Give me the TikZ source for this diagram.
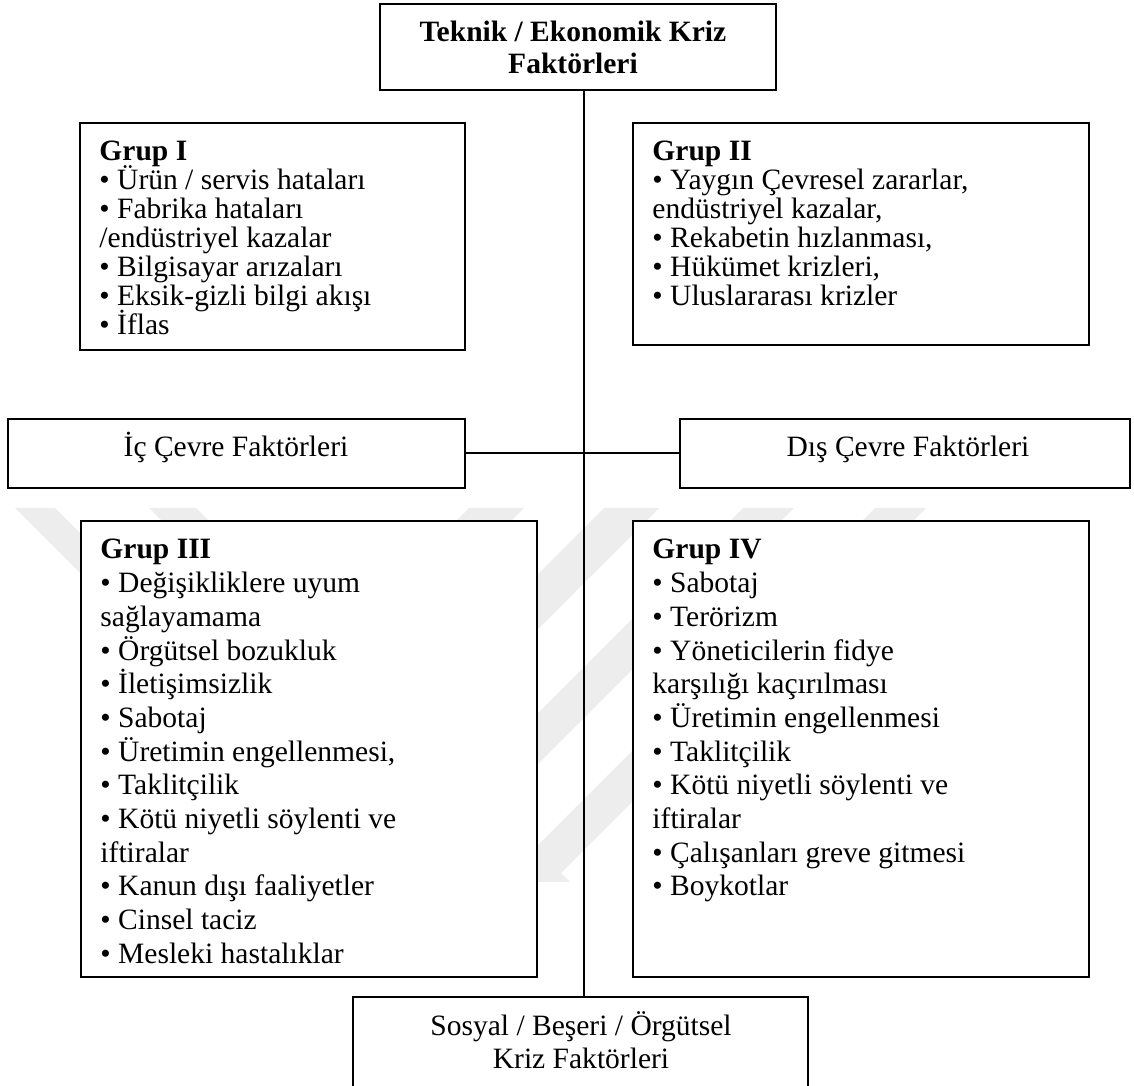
\documentclass[tikz,border=0pt]{standalone}
\usepackage{fontspec}
\setmainfont{Liberation Serif}
\usetikzlibrary{fit}
\begin{document}
\begin{tikzpicture}[x=0.42pt, y=-0.42pt,
  box/.style={draw, line width=0.84pt, fill=white, inner sep=0pt},
  wm/.style={fill=black!7},
  spine line/.style={line width=0.55pt},
  link/.style={line width=0.84pt},
  txt/.style={inner sep=0pt, font=\fontsize{12.4pt}{14pt}\selectfont},
  head/.style={inner sep=0pt, font=\fontsize{12.4pt}{14pt}\selectfont\bfseries}]

\useasboundingbox (0,0) rectangle (1134,1086);
\clip (0,0) rectangle (1134,1086);

% faint striped emblem in the background
\begin{scope}
  \clip (0,508) rectangle (1134,882);
  \foreach \a/\w in {15/40,149/47}
    \fill[wm] (\a,508) -- ++(\w,0) -- ++(400,400) -- ++(-\w,0) -- cycle;
  \foreach \a/\w in {469/55,604/55,743/51,875/51}
    \fill[wm] (\a,508) -- ++(\w,0) -- ++(-400,400) -- ++(-\w,0) -- cycle;
\end{scope}

% boxes
\node[box, fit={(380,4) (776,90)}] (top) {};
\node[box, fit={(80,123) (465,350)}] (g1) {};
\node[box, fit={(633,123) (1089,345)}] (g2) {};
\node[box, fit={(8,419) (465,488)}] (ic) {};
\node[box, fit={(680,419) (1130,488)}] (dis) {};
\node[box, fit={(81,521) (537,977)}] (g3) {};
\node[box, fit={(633,521) (1089,977)}] (g4) {};
\node[box, fit={(353,997) (808,1110)}] (bot) {};

% connectors
\coordinate (spine) at (584,0);
\draw[spine line] (top.south -| spine) -- (bot.north -| spine);
\draw[link] (ic.east) -- (dis.west);

% titles
\node[head, anchor=base] (topA) at (573,42) {Teknik / Ekonomik Kriz};
\node[head, anchor=base] (topB) at (573,74) {Faktörleri};
\node[txt, anchor=base] (icT) at (236,457) {İç Çevre Faktörleri};
\node[txt, anchor=base] (disT) at (908,457) {Dış Çevre Faktörleri};
\node[txt, anchor=base] (botA) at (581,1035) {Sosyal / Beşeri / Örgütsel};
\node[txt, anchor=base] (botB) at (581,1069) {Kriz Faktörleri};

% group lists
\foreach \lbl [count=\i from 0] in {{\bfseries Grup I}, {• Ürün / servis hataları},
    {• Fabrika hataları}, {/endüstriyel kazalar}, {• Bilgisayar arızaları},
    {• Eksik-gizli bilgi akışı}, {• İflas}}
  \node[txt, anchor=base west] (g1l\i) at (99,161+29*\i) {\lbl};

\foreach \lbl [count=\i from 0] in {{\bfseries Grup II}, {• Yaygın Çevresel zararlar,},
    {endüstriyel kazalar,}, {• Rekabetin hızlanması,}, {• Hükümet krizleri,},
    {• Uluslararası krizler}}
  \node[txt, anchor=base west] (g2l\i) at (652,161+29*\i) {\lbl};

\foreach \lbl [count=\i from 0] in {{\bfseries Grup III}, {• Değişikliklere uyum},
    {sağlayamama}, {• Örgütsel bozukluk}, {• İletişimsizlik}, {• Sabotaj},
    {• Üretimin engellenmesi,}, {• Taklitçilik}, {• Kötü niyetli söylenti ve},
    {iftiralar}, {• Kanun dışı faaliyetler}, {• Cinsel taciz}, {• Mesleki hastalıklar}}
  \node[txt, anchor=base west] (g3l\i) at (100,559+33.7*\i) {\lbl};

\foreach \lbl [count=\i from 0] in {{\bfseries Grup IV}, {• Sabotaj}, {• Terörizm},
    {• Yöneticilerin fidye}, {karşılığı kaçırılması}, {• Üretimin engellenmesi},
    {• Taklitçilik}, {• Kötü niyetli söylenti ve}, {iftiralar},
    {• Çalışanları greve gitmesi}, {• Boykotlar}}
  \node[txt, anchor=base west] (g4l\i) at (652,559+33.7*\i) {\lbl};
\end{tikzpicture}
\end{document}
